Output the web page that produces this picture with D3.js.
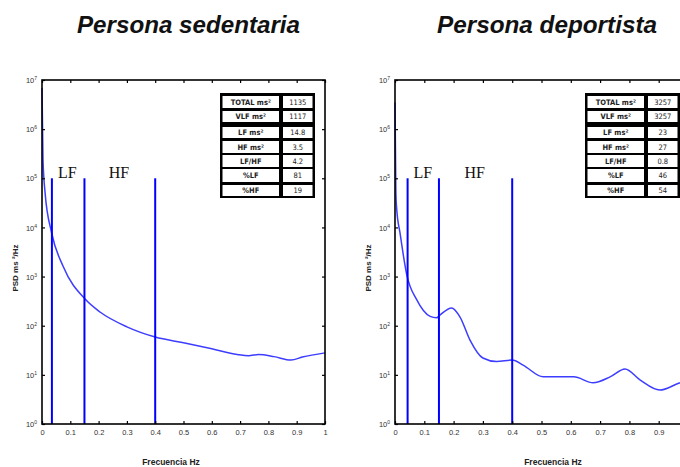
<!DOCTYPE html>
<html>
<head>
<meta charset="utf-8">
<script src="https://cdn.jsdelivr.net/npm/d3@7"></script>
<style>
  html, body { margin: 0; padding: 0; background: #fff; }
  svg { display: block; }
</style>
</head>
<body>
<svg id="chart" width="680" height="467"></svg>
<script>
// Power spectral density (ms²/Hz) of heart-rate variability, two subjects.
const titles = ["Persona sedentaria", "Persona deportista"];

const sedentaryFreq = [0, 0.0035, 0.011, 0.034, 0.075, 0.154, 0.205, 0.30, 0.40, 0.50, 0.60, 0.69, 0.73, 0.765, 0.82, 0.88, 0.92, 1.0];
const sedentaryPsd  = [6.9e6, 2.4e5, 5.0e4, 7.8e3, 1.6e3, 340, 190, 95, 59, 45, 34, 26, 24.5, 26, 23.5, 20, 23, 28];

const athleteFreq = [0, 0.003, 0.006, 0.017, 0.04, 0.074, 0.12, 0.142, 0.154, 0.193, 0.222, 0.256, 0.30, 0.347, 0.40, 0.437, 0.506, 0.61, 0.676, 0.734, 0.785, 0.836, 0.904, 0.97, 1.0];
const athletePsd  = [3.5e6, 5.0e4, 2.3e4, 7.8e3, 1100, 340, 155, 145, 166, 230, 150, 51, 22, 18.6, 20, 15.8, 9.1, 9.1, 6.9, 9.1, 13.2, 7.9, 4.9, 6.8, 7.6];

// Band limits (VLF/LF, LF/HF, HF upper)
const sedentaryBands = [0.035, 0.15, 0.4];
const athleteBands   = [0.043, 0.15, 0.4];

const tableLabels = ["TOTAL ms²", "VLF ms²", "LF ms²", "HF ms²", "LF/HF", "%LF", "%HF"];
const sedentaryTable = ["1135", "1117", "14.8", "3.5", "4.2", "81", "19"];
const athleteTable   = ["3257", "3257", "23", "27", "0.8", "46", "54"];

const xTicks = [0, 0.1, 0.2, 0.3, 0.4, 0.5, 0.6, 0.7, 0.8, 0.9, 1];
const yTicks = [1, 10, 100, 1e3, 1e4, 1e5, 1e6, 1e7];

const width = 680;
const svg = d3.select("#chart");

const panels = [
  { title: titles[0], freq: sedentaryFreq, psd: sedentaryPsd, bands: sedentaryBands, table: sedentaryTable,
    x0: 42, x1: 325, titleX: 77, titleW: 223, tableX: 220, xLabelX: 171 },
  { title: titles[1], freq: athleteFreq, psd: athletePsd, bands: athleteBands, table: athleteTable,
    x0: 395, x1: 688, titleX: 437, titleW: 220, tableX: 585, xLabelX: 553 }
];

const plotTop = 80, plotBottom = 424;

panels.forEach(p => {
  const g = svg.append("g");
  const x = d3.scaleLinear().domain([0, 1]).range([p.x0, p.x1]);
  const y = d3.scaleLog().domain([1, 1e7]).range([plotBottom, plotTop]);

  // Title
  g.append("text")
    .attr("x", p.titleX).attr("y", 33)
    .attr("textLength", p.titleW).attr("lengthAdjust", "spacingAndGlyphs")
    .style("font-family", "'Liberation Sans', Arial, sans-serif")
    .style("font-weight", "bold").style("font-style", "italic")
    .style("font-size", "24px").style("fill", "#111")
    .text(p.title);

  // Curve
  const pts = p.freq.map((f, i) => [f, p.psd[i]]);
  g.append("path")
    .datum(pts)
    .attr("fill", "none")
    .attr("stroke", "#3d3dff")
    .attr("stroke-width", 1.5)
    .attr("d", d3.line().x(d => x(d[0])).y(d => y(d[1])).curve(d3.curveMonotoneX));

  // Band limit lines
  g.selectAll(".band").data(p.bands).enter().append("line")
    .attr("x1", d => x(d)).attr("x2", d => x(d))
    .attr("y1", y(1e5)).attr("y2", y(1))
    .attr("stroke", "#0000ff").attr("stroke-width", 2);

  // Band labels
  const serif = "'Liberation Serif', 'Times New Roman', serif";
  g.append("text").attr("x", x(p.bands[0]) + 6).attr("y", 178)
    .style("font-family", serif).style("font-size", "16px").style("fill", "#111").text("LF");
  g.append("text").attr("x", x((p.bands[1] + p.bands[2]) / 2) - 11).attr("y", 178)
    .style("font-family", serif).style("font-size", "16px").style("fill", "#111").text("HF");

  // Axes with inward ticks, MATLAB style
  const tickFont = "'Liberation Sans', Arial, sans-serif";
  const xAxis = g.append("g").attr("transform", `translate(0,${plotBottom})`)
    .call(d3.axisBottom(x).tickValues(xTicks).tickSizeInner(-3).tickSizeOuter(0).tickPadding(6)
      .tickFormat(d3.format("~g")));
  xAxis.select(".domain").remove();
  xAxis.selectAll("text").style("font-family", tickFont).style("font-size", "7.5px").style("fill", "#333");
  // labels that fall past the right edge of the page are dropped
  xAxis.selectAll(".tick").filter(d => x(d) > width - 4).select("text").remove();
  xAxis.selectAll("line").attr("stroke", "#000").attr("stroke-width", 1.2);

  g.append("g").attr("transform", `translate(0,${plotTop})`)
    .call(d3.axisTop(x).tickValues(xTicks).tickSizeInner(-3).tickSizeOuter(0).tickFormat(""))
    .call(a => { a.select(".domain").remove(); a.selectAll("line").attr("stroke", "#000").attr("stroke-width", 1.2); });

  const yAxis = g.append("g").attr("transform", `translate(${p.x0},0)`)
    .call(d3.axisLeft(y).tickValues(yTicks).tickSizeInner(-3).tickSizeOuter(0).tickPadding(5)
      .tickFormat(""));
  yAxis.select(".domain").remove();
  yAxis.selectAll("line").attr("stroke", "#000").attr("stroke-width", 1.2);
  yAxis.selectAll(".tick").each(function(d) {
    const t = d3.select(this).append("text")
      .attr("x", -5).attr("dy", "0.35em")
      .style("font-family", tickFont).style("font-size", "7.5px").style("fill", "#333")
      .attr("text-anchor", "end");
    t.append("tspan").text("10");
    t.append("tspan").attr("dy", "-3").style("font-size", "5px").text(Math.round(Math.log10(d)));
  });

  g.append("g").attr("transform", `translate(${p.x1},0)`)
    .call(d3.axisRight(y).tickValues(yTicks).tickSizeInner(-3).tickSizeOuter(0).tickFormat(""))
    .call(a => { a.select(".domain").remove(); a.selectAll("line").attr("stroke", "#000").attr("stroke-width", 1.2); });

  // Frame
  g.append("rect")
    .attr("x", p.x0).attr("y", plotTop).attr("width", p.x1 - p.x0).attr("height", plotBottom - plotTop)
    .attr("fill", "none").attr("stroke", "#000").attr("stroke-width", 1.6);

  // Axis titles
  g.append("text")
    .attr("x", p.xLabelX).attr("y", 465).attr("text-anchor", "middle")
    .style("font-family", tickFont).style("font-weight", "bold").style("font-size", "8.5px").style("fill", "#222")
    .text("Frecuencia Hz");
  g.append("text")
    .attr("transform", `translate(${p.x0 - 24},268) rotate(-90)`)
    .attr("text-anchor", "middle")
    .style("font-family", tickFont).style("font-weight", "bold").style("font-size", "8px").style("fill", "#222")
    .text("PSD ms ²/Hz");

  // Summary table
  const tx = p.tableX, ty = 93, tw = 95, th = 105;
  const rows = [[96, 108], [111, 122], [127, 138], [141, 153], [155, 167], [169, 182], [185, 196]];
  const tg = g.append("g");
  tg.append("rect").attr("x", tx).attr("y", ty).attr("width", tw).attr("height", th).attr("fill", "#000");
  const narrow = "'Liberation Sans Narrow', 'Arial Narrow', 'DejaVu Sans Condensed', sans-serif";
  rows.forEach((r, i) => {
    tg.append("rect").attr("x", tx + 2.5).attr("y", r[0]).attr("width", 56.5).attr("height", r[1] - r[0]).attr("fill", "#fff");
    tg.append("rect").attr("x", tx + 63).attr("y", r[0]).attr("width", 29.5).attr("height", r[1] - r[0]).attr("fill", "#fff");
    const cy = (r[0] + r[1]) / 2 + 2.6;
    tg.append("text").attr("x", tx + 2.5 + 28.25).attr("y", cy).attr("text-anchor", "middle")
      .style("font-family", narrow).style("font-weight", "bold").style("font-size", "7.5px").style("fill", "#222")
      .text(tableLabels[i]);
    tg.append("text").attr("x", tx + 63 + 14.75).attr("y", cy).attr("text-anchor", "middle")
      .style("font-family", narrow).style("font-size", "7.5px").style("fill", "#222")
      .text(p.table[i]);
  });
});
</script>
</body>
</html>
